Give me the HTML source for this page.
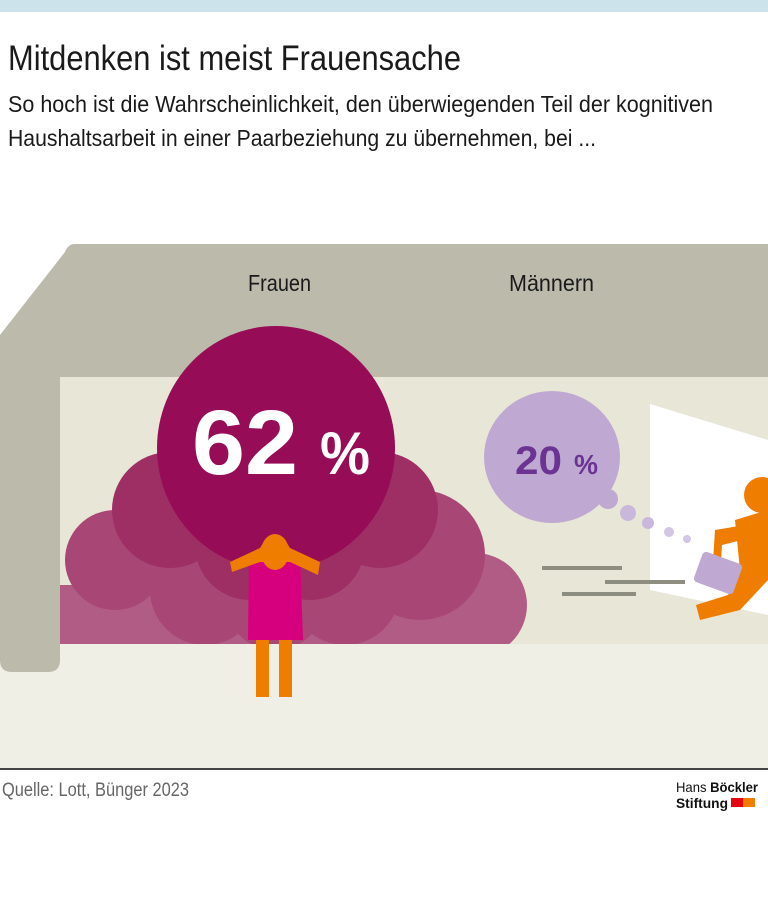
<!DOCTYPE html>
<html><head><meta charset="utf-8"><style>
body{margin:0;width:768px;height:907px;background:#fff;overflow:hidden;font-family:"Liberation Sans",sans-serif;}
</style></head><body>
<svg width="768" height="907" viewBox="0 0 768 907" xmlns="http://www.w3.org/2000/svg" font-family="Liberation Sans, sans-serif">
<rect x="0" y="0" width="768" height="12" fill="#cde3ec"/>
<text x="8" y="70" font-size="35" fill="#1a1a1a" textLength="453" lengthAdjust="spacingAndGlyphs">Mitdenken ist meist Frauensache</text>
<text x="8" y="112" font-size="23" fill="#1a1a1a" textLength="705" lengthAdjust="spacingAndGlyphs">So hoch ist die Wahrscheinlichkeit, den überwiegenden Teil der kognitiven</text>
<text x="8" y="146" font-size="23" fill="#1a1a1a" textLength="588" lengthAdjust="spacingAndGlyphs">Haushaltsarbeit in einer Paarbeziehung zu übernehmen, bei ...</text>
<rect x="0" y="640" width="768" height="128" fill="#f0efe6"/>
<path d="M75,244 L768,244 L768,377 L60,377 L60,660 Q60,672 48,672 L12,672 Q0,672 0,660 L0,335 L65,252 Q68,244 75,244 Z" fill="#bbbaab"/>
<rect x="60" y="377" width="708" height="267" fill="#e8e6d7"/>
<defs><clipPath id="c"><rect x="60" y="377" width="708" height="267"/></clipPath></defs>
<g clip-path="url(#c)">
<circle cx="475" cy="605" r="52" fill="#b05c85"/>
<rect x="60" y="585" width="420" height="60" fill="#b05c85"/>
<circle cx="115" cy="560" r="50" fill="#a84775"/>
<circle cx="420" cy="555" r="65" fill="#a84775"/>
<circle cx="205" cy="590" r="55" fill="#a84775"/>
<circle cx="345" cy="590" r="55" fill="#a84775"/>
<circle cx="275" cy="600" r="50" fill="#a84775"/>
<circle cx="170" cy="510" r="58" fill="#9e2f65"/>
<circle cx="380" cy="510" r="58" fill="#9e2f65"/>
<circle cx="250" cy="545" r="55" fill="#9e2f65"/>
<circle cx="310" cy="545" r="55" fill="#9e2f65"/>
<path d="M650,404 L768,440 L768,615 L650,590 Z" fill="#ffffff"/>
<rect x="542" y="566" width="80" height="4" fill="#8e8e80"/>
<rect x="605" y="580" width="80" height="4" fill="#8e8e80"/>
<rect x="562" y="592" width="74" height="4" fill="#8e8e80"/>
<circle cx="762" cy="495" r="18" fill="#ef7d00"/>
<path d="M735,520 L768,510 L768,580 L740,610 L700,620 L696,605 L728,595 L740,570 Z" fill="#ef7d00"/>
<path d="M715,530 L745,525 L742,540 L722,545 L720,580 L712,578 Z" fill="#ef7d00"/>
<rect x="697" y="557" width="42" height="32" rx="4" fill="#bfa9d2" transform="rotate(20 718 573)"/>
</g>
<ellipse cx="276" cy="448" rx="119" ry="122" fill="#970c56"/>
<text x="192" y="474" font-size="92" font-weight="bold" fill="#fff" textLength="106" lengthAdjust="spacingAndGlyphs">62</text>
<text x="320" y="474" font-size="60" font-weight="bold" fill="#fff" textLength="50" lengthAdjust="spacingAndGlyphs">%</text>
<circle cx="608" cy="499" r="10" fill="#bfa9d2"/>
<ellipse cx="552" cy="457" rx="68" ry="66" fill="#bfa9d2"/>
<circle cx="628" cy="513" r="8" fill="#c9b8dc"/>
<circle cx="648" cy="523" r="6" fill="#c9b8dc"/>
<circle cx="669" cy="532" r="5" fill="#d3c6e3"/>
<circle cx="687" cy="539" r="4" fill="#d3c6e3"/>
<text x="515" y="474" font-size="40" font-weight="bold" fill="#6b3493" textLength="47" lengthAdjust="spacingAndGlyphs">20</text>
<text x="574" y="474" font-size="28" font-weight="bold" fill="#6b3493" textLength="24" lengthAdjust="spacingAndGlyphs">%</text>
<rect x="256" y="640" width="13" height="57" fill="#ef7d00"/>
<rect x="279" y="640" width="13" height="57" fill="#ef7d00"/>
<path d="M249,553 L300,553 L303,640 L248,640 Z" fill="#d6007e"/>
<path d="M230,562 L260,548 L265,540 L285,540 L290,548 L320,562 L318,575 L290,562 L260,562 L232,572 Z" fill="#ef7d00"/>
<ellipse cx="275" cy="552" rx="14" ry="18" fill="#ef7d00"/>
<text x="248" y="291" font-size="23" fill="#1a1a1a" textLength="63" lengthAdjust="spacingAndGlyphs">Frauen</text>
<text x="509" y="291" font-size="23" fill="#1a1a1a" textLength="85" lengthAdjust="spacingAndGlyphs">Männern</text>
<rect x="0" y="768" width="768" height="2" fill="#444"/>
<text x="2" y="796" font-size="19" fill="#666" textLength="187" lengthAdjust="spacingAndGlyphs">Quelle: Lott, Bünger 2023</text>
<text x="676" y="792" font-size="14" fill="#111" textLength="82" lengthAdjust="spacingAndGlyphs">Hans <tspan font-weight="bold">Böckler</tspan></text>
<text x="676" y="808" font-size="14" font-weight="bold" fill="#111" textLength="52" lengthAdjust="spacingAndGlyphs">Stiftung</text>
<rect x="731" y="798" width="12" height="9" fill="#e30613"/>
<rect x="743" y="798" width="12" height="9" fill="#ef7d00"/>
</svg>
</body></html>
